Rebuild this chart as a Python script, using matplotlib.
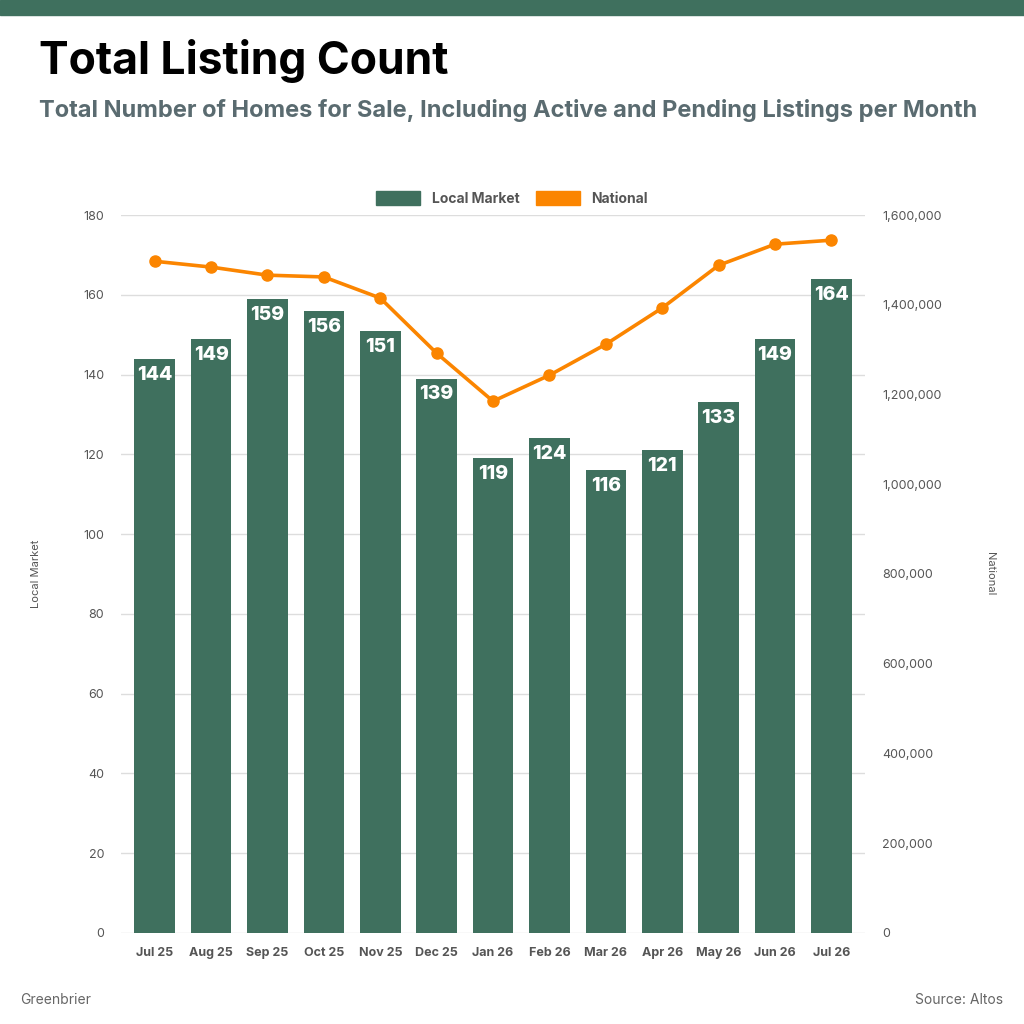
import matplotlib.pyplot as plt
import matplotlib.ticker as mticker
from matplotlib.patches import Patch
import numpy as np

months = ['Jul 25', 'Aug 25', 'Sep 25', 'Oct 25', 'Nov 25', 'Dec 25', 'Jan 26',
          'Feb 26', 'Mar 26', 'Apr 26', 'May 26', 'Jun 26', 'Jul 26']
local = [144, 149, 159, 156, 151, 139, 119, 124, 116, 121, 133, 149, 164]
national = [1497000, 1484000, 1466000, 1462000, 1415000, 1292000, 1185000,
            1243000, 1312000, 1393000, 1488000, 1535000, 1544000]

GREEN = '#3f705e'
ORANGE = '#fb8500'
plt.rcParams['font.family'] = ['Inter', 'DejaVu Sans']

fig = plt.figure(figsize=(10.24, 10.24), dpi=100)
fig.patches.append(plt.Rectangle((0, 0.985), 1, 0.015, transform=fig.transFigure,
                                 color=GREEN, zorder=0))
fig.text(0.038, 0.94, 'Total Listing Count', fontsize=32, fontweight='bold', va='center')
fig.text(0.038, 0.892, 'Total Number of Homes for Sale, Including Active and Pending Listings per Month',
         fontsize=17, fontweight='bold', color='#5a6b70', va='center')
fig.text(0.02, 0.02, 'Greenbrier', fontsize=10, color='#666666')
fig.text(0.98, 0.02, 'Source: Altos', fontsize=10, color='#666666', ha='right')

ax = fig.add_axes([0.118, 0.089, 0.727, 0.701])
ax2 = ax.twinx()
x = np.arange(len(months))
ax.bar(x, local, width=0.72, color=GREEN, zorder=2)
for xi, v in zip(x, local):
    ax.text(xi, v - 4, str(v), ha='center', va='center', color='white',
            fontsize=14, fontweight='heavy', zorder=3)
ax2.plot(x, national, color=ORANGE, lw=2.6, marker='o', ms=8, zorder=4)

ax.set_ylim(0, 180)
ax.set_yticks(range(0, 181, 20))
ax2.set_ylim(0, 1600000)
ax2.set_yticks(range(0, 1600001, 200000))
ax2.yaxis.set_major_formatter(mticker.FuncFormatter(lambda v, p: f'{int(v):,}'))
ax.set_xlim(-0.6, 12.6)
ax.set_xticks(x)
ax.set_xticklabels(months, fontweight='bold')
ax.grid(axis='y', color='#dddddd', lw=1, zorder=0)
ax.set_axisbelow(True)
for a in (ax, ax2):
    for s in a.spines.values():
        s.set_visible(False)
    a.tick_params(length=0, labelsize=9, labelcolor='#555555', pad=12)
ax.tick_params(axis='x', pad=10)
ax.set_ylabel('Local Market', fontsize=8, color='#555555', labelpad=30)
ax2.set_ylabel('National', fontsize=8, color='#555555', rotation=270, labelpad=38)
ax2.set_zorder(ax.get_zorder() + 1)
ax2.patch.set_visible(False)

handles = [Patch(color=GREEN), Patch(color=ORANGE)]
fig.legend(handles, ['Local Market', 'National'], loc='center', bbox_to_anchor=(0.5, 0.806),
           ncol=2, frameon=False, prop={'weight': 'bold', 'size': 10},
           handlelength=3.2, handleheight=1.2, columnspacing=1.2, labelcolor='#555555')

fig.savefig('out.png', dpi=100, facecolor='white')
